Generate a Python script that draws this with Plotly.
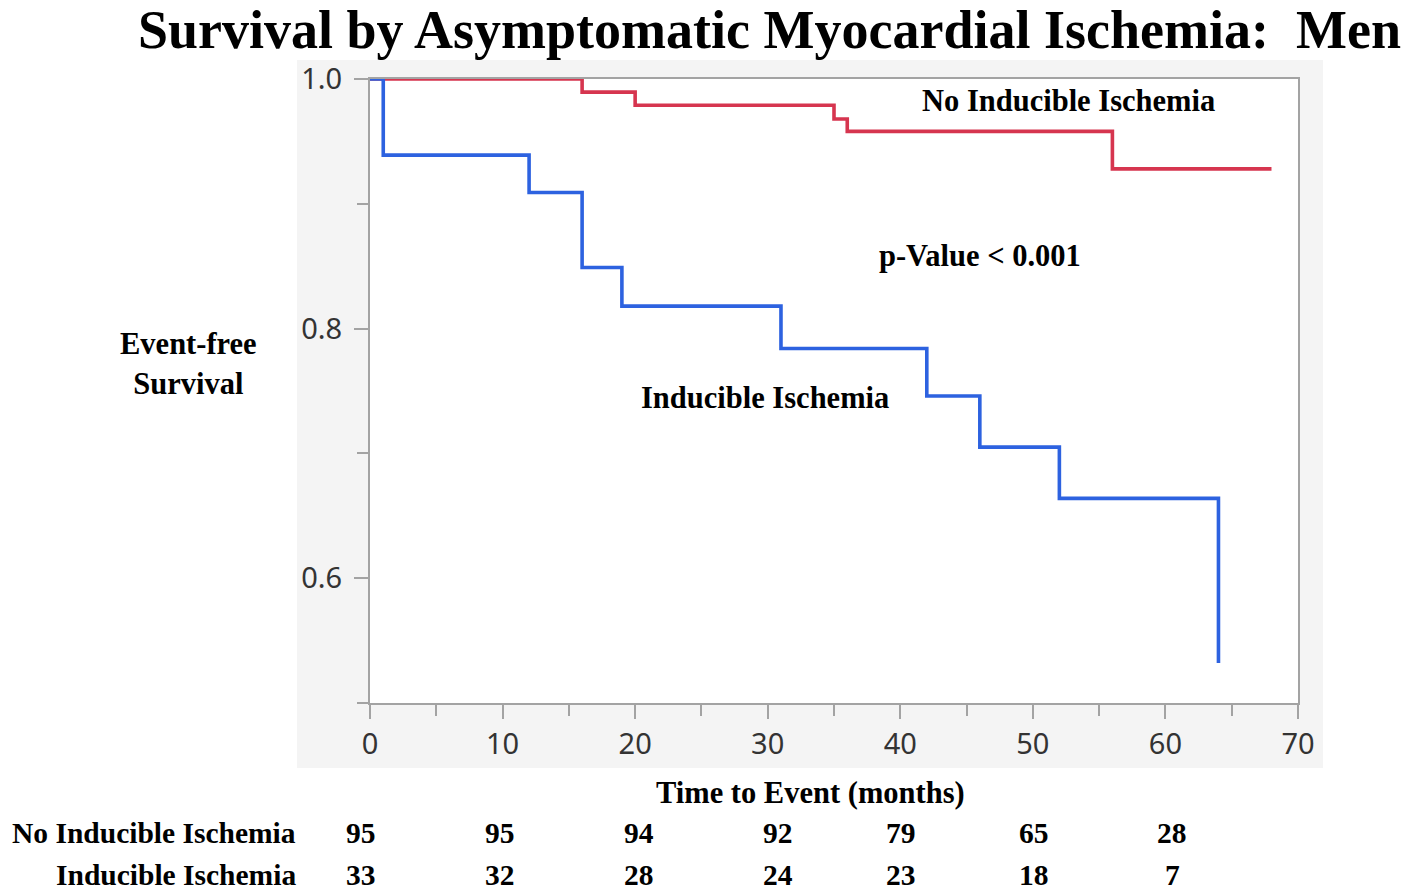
import plotly.graph_objects as go

# ---- data ----
no_isch_time = [0, 16, 20, 35, 36, 56, 68]
no_isch_surv = [1.0, 0.9895, 0.979, 0.968, 0.958, 0.928, 0.928]
isch_time = [0, 1, 12, 16, 19, 31, 42, 46, 52, 64]
isch_surv = [1.0, 0.939, 0.909, 0.849, 0.818, 0.784, 0.746, 0.705, 0.664, 0.532]

risk_labels = ["No Inducible Ischemia", "Inducible Ischemia"]
risk_no_isch = [95, 95, 94, 92, 79, 65, 28]
risk_isch = [33, 32, 28, 24, 23, 18, 7]

x_ticks = [0, 10, 20, 30, 40, 50, 60, 70]
y_ticks = [0.6, 0.8, 1.0]

title_text = "Survival by Asymptomatic Myocardial Ischemia:  Men"

# ---- layout geometry (page pixels; the page has an 8px body margin) ----
OFF = 8
W, H = 1418 - OFF, 892 - OFF
L, R, T, B = 370, 1298, 79, 703          # plot area in page pixels
PW, PH = R - L, B - T


def px(x):
    return (x - L) / PW


def py(y):
    return (B - y) / PH


SERIF = "Liberation Serif"
RED = "#d6354f"
BLUE = "#2d62e0"
AXC = "#a3a3a3"
TXT = 30.5

fig = go.Figure()
fig.add_trace(go.Scatter(x=no_isch_time, y=no_isch_surv, mode="lines",
                         line=dict(color=RED, width=3.6, shape="hv"),
                         showlegend=False, cliponaxis=False))
fig.add_trace(go.Scatter(x=isch_time, y=isch_surv, mode="lines",
                         line=dict(color=BLUE, width=3.6, shape="hv"),
                         showlegend=False, cliponaxis=False))


def label(text, x, y, anchor="center", size=TXT):
    return dict(text="<b>" + text + "</b>", x=px(x), y=py(y), xref="paper", yref="paper",
                xanchor=anchor, yanchor="middle", showarrow=False, align="center",
                font=dict(family=SERIF, size=size, color="black"))


ann = [
    label(title_text, 769, 30, size=54),
    label("Event-free<br>Survival", 188, 364),
    label("No Inducible Ischemia", 1068, 101),
    label("p-Value < 0.001", 980, 256),
    label("Inducible Ischemia", 765, 398),
    label("Time to Event (months)", 810, 793),
]
col_px = [361, 500, 639, 778, 901, 1034, 1172]
row_py = [833, 875]
for r, (lab, vals) in enumerate(zip(risk_labels, [risk_no_isch, risk_isch])):
    ann.append(label(lab, 298, row_py[r], anchor="right", size=29.5))
    for c, v in enumerate(vals):
        ann.append(label(str(v), col_px[c], row_py[r], size=29.5))

shapes = [
    dict(type="rect", xref="paper", yref="paper", x0=px(297), x1=px(1323), y0=py(768), y1=py(60),
         fillcolor="#f4f4f4", line=dict(width=0), layer="below"),
    dict(type="rect", xref="paper", yref="paper", x0=0, x1=1, y0=0, y1=1,
         fillcolor="white", line=dict(width=0), layer="below"),
]

tickfont = dict(family="Noto Sans", size=29, color="#333333")
axis_common = dict(showgrid=False, zeroline=False, showline=True, linecolor=AXC, linewidth=2,
                   mirror=True, ticks="outside", ticklen=14, tickwidth=2, tickcolor=AXC,
                   tickfont=tickfont)
fig.update_layout(
    width=W, height=H,
    margin=dict(l=L - OFF, r=W - (R - OFF), t=T - OFF, b=H - (B - OFF), pad=0),
    paper_bgcolor="white", plot_bgcolor="white",
    annotations=ann, shapes=shapes,
    xaxis=dict(range=[0, 70], tickvals=x_ticks, ticktext=[str(v) for v in x_ticks],
               minor=dict(dtick=5, tick0=0, ticks="outside", ticklen=11, tickwidth=2, tickcolor=AXC),
               ticklabelstandoff=0, **axis_common),
    yaxis=dict(range=[0.5, 1.0], tickvals=y_ticks, ticktext=["0.6", "0.8", "1.0"],
               minor=dict(dtick=0.1, tick0=0.5, ticks="outside", ticklen=11, tickwidth=2, tickcolor=AXC),
               ticklabelstandoff=6, **axis_common),
)

fig.write_html("out.html")
